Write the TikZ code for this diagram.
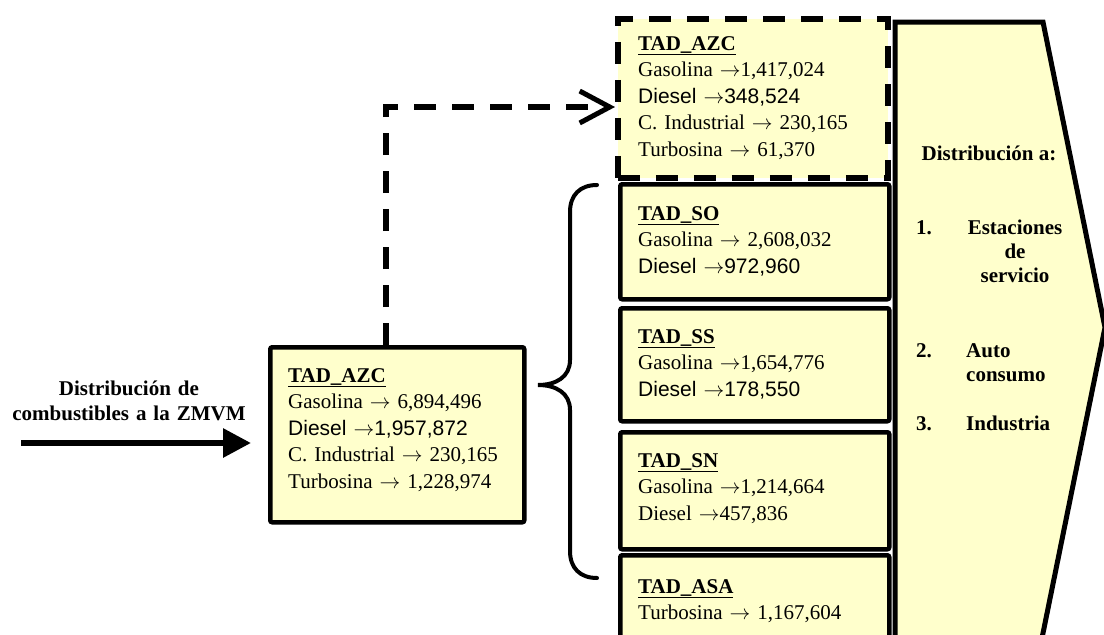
\documentclass[tikz,border=0pt]{standalone}
\usepackage{fontspec}
\setmainfont{Liberation Serif}
\newfontfamily\arialfont{Liberation Sans}
\usepackage{tikz}
\usetikzlibrary{arrows.meta, positioning}

\definecolor{tadyellow}{HTML}{FFFFCC}
\newcommand{\flecha}{$\rightarrow$}

\begin{document}
\begin{tikzpicture}[x=1pt, y=-1pt,
    tadbox/.style={draw, line width=4.5pt, fill=tadyellow, rounded corners=2pt, anchor=north west, inner sep=0pt},
    dashbox/.style={tadbox, rounded corners=0pt, line width=5.5pt, dash pattern=on 22pt off 16pt},
    tadtext/.style={anchor=base west, align=left, text width=245pt, inner sep=0pt, font=\fontsize{21}{26.5}\selectfont},
    listtext/.style={anchor=base west, inner sep=0pt, font=\fontsize{21}{24}\selectfont\bfseries},
    arrow/.style={line width=6pt, -{Triangle[length=28pt, width=28pt]}},
    dasharrow/.style={line width=5.5pt, dash pattern=on 22pt off 16pt, -{Straight Barb[length=30pt, width=32pt, line width=5pt]}}
]
    \useasboundingbox (0,0) rectangle (1104,635);

    % boxes
    \node[tadbox, minimum width=254pt, minimum height=175pt] (azcmain) at (268,345) {};
    \node[dashbox, minimum width=270pt, minimum height=159pt] (azctop) at (615,16) {};
    \node[tadbox, minimum width=269pt, minimum height=115pt] (tadso) at (618,182) {};
    \node[tadbox, minimum width=269pt, minimum height=113pt] (tadss) at (618,306) {};
    \node[tadbox, minimum width=269pt, minimum height=117pt] (tadsn) at (618,430) {};
    \node[tadbox, minimum width=269pt, minimum height=107pt] (tadasa) at (618,553) {};

    % box texts
    \node[tadtext] (azcmaintxt) at (288,382) {\underline{\textbf{TAD\_AZC}}\\
        Gasolina \flecha{} 6,894,496\\
        {\arialfont Diesel \flecha1,957,872}\\
        C. Industrial \flecha{} 230,165\\
        Turbosina \flecha{} 1,228,974};
    \node[tadtext] (azctoptxt) at (638,50) {\underline{\textbf{TAD\_AZC}}\\
        Gasolina \flecha1,417,024\\
        {\arialfont Diesel \flecha348,524}\\
        C. Industrial \flecha{} 230,165\\
        Turbosina \flecha{} 61,370};
    \node[tadtext] (tadsotxt) at (638,220) {\underline{\textbf{TAD\_SO}}\\
        Gasolina \flecha{} 2,608,032\\
        {\arialfont Diesel \flecha972,960}};
    \node[tadtext] (tadsstxt) at (638,343) {\underline{\textbf{TAD\_SS}}\\
        Gasolina \flecha1,654,776\\
        {\arialfont Diesel \flecha178,550}};
    \node[tadtext] (tadsntxt) at (638,467) {\underline{\textbf{TAD\_SN}}\\
        Gasolina \flecha1,214,664\\
        Diesel \flecha457,836};
    \node[tadtext] (tadasatxt) at (638,593) {\underline{\textbf{TAD\_ASA}}\\
        Turbosina \flecha{} 1,167,604};

    % incoming flow
    \node[anchor=base, align=center, text width=260pt, inner sep=0pt, font=\fontsize{21}{25}\selectfont\bfseries] (feedlbl) at (129,395) {Distribución de\\combustibles a la ZMVM};
    \coordinate (feed) at (21,443);
    \draw[arrow, shorten >=17pt] (feed) -- (feed -| azcmain.west);

    % dashed link to the upper TAD_AZC
    \coordinate (bend) at (386,107);
    \draw[dasharrow] (bend |- azcmain.north) -- (bend) -- (bend -| azctop.west);

    % brace
    \draw[line width=4pt, line cap=round] (597,185) .. controls (580,185) and (570,195) .. (570,212) -- (570,360)
        .. controls (570,377) and (556,385) .. (538,385)
        .. controls (556,385) and (570,393) .. (570,410) -- (570,551)
        .. controls (570,568) and (580,578) .. (597,578);

    % distribution chevron
    \draw[line width=5pt, fill=tadyellow] (895,22) -- (1043,22) -- (1105,327.5) -- (1040.6,645) -- (895,645) -- cycle;
    \node[listtext, anchor=base] (dista) at (989,160) {Distribución a:};
    \node[listtext] (num1) at (916,234) {1.};
    \node[listtext, anchor=base, align=center, text width=100pt] (estac) at (1015,234) {Estaciones\\de\\servicio};
    \node[listtext] (num2) at (916,357) {2.};
    \node[listtext, align=left, text width=100pt] (auto) at (966,357) {Auto\\consumo};
    \node[listtext] (num3) at (916,430) {3.};
    \node[listtext] (indus) at (966,430) {Industria};
\end{tikzpicture}
\end{document}
